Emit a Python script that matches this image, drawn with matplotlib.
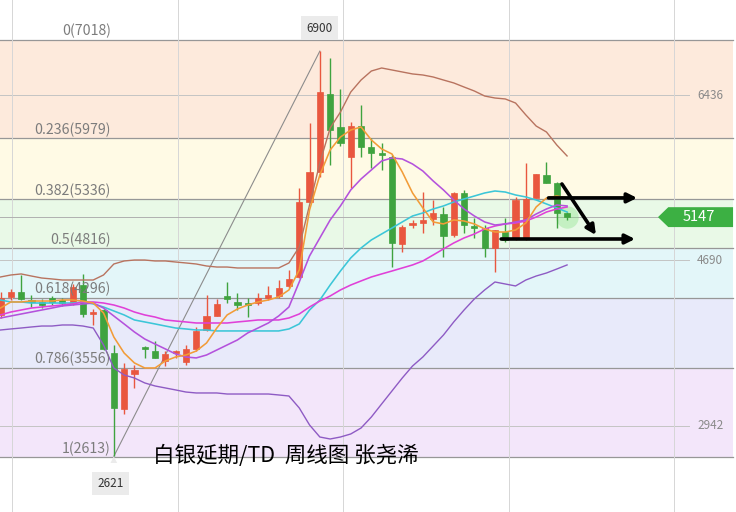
import matplotlib
matplotlib.use('Agg')
import matplotlib.pyplot as plt
import matplotlib.transforms as mtransforms
from matplotlib.patches import Polygon
import numpy as np

plt.rcParams['font.family'] = ['Noto Sans CJK SC', 'DejaVu Sans']

# weekly candles (白银延期/TD), index = week
opens = [4114, 4304, 4356, 4262, 4251, 4293, 4251, 4240, 4430, 4124,
         4166, 3712, 3121, 3491, 3760, 3734, 3628, 3710, 3617, 3755,
         3955, 4103, 4314, 4251, 4240, 4240, 4298, 4314, 4420, 4515,
         5307, 5624, 6447, 6099, 5782, 6109, 5888, 5824, 5782, 4863,
         5064, 5085, 5127, 5180, 4958, 5402, 5037, 5032, 4821, 4990,
         4916, 4916, 5349, 5592, 5507, 5190]
highs = [4356, 4388, 4536, 4325, 4283, 4314, 4293, 4440, 4547, 4177,
         4177, 3797, 3607, 3586, 3786, 3839, 3734, 3744, 3797, 3987,
         4325, 4283, 4462, 4346, 4293, 4346, 4420, 4483, 4589, 5455,
         6141, 6900, 6828, 6500, 6152, 6331, 5983, 5930, 5803, 5064,
         5117, 5412, 5328, 5254, 5412, 5434, 5138, 5064, 5011, 5138,
         5360, 5719, 5603, 5729, 5518, 5201]
lows = [4082, 4272, 4272, 4198, 4188, 4219, 4209, 4219, 4092, 4008,
        3744, 2621, 3068, 3343, 3660, 3655, 3575, 3660, 3586, 3734,
        3945, 4103, 4240, 4166, 4092, 4219, 4272, 4293, 4399, 4504,
        5296, 5571, 5698, 5898, 5455, 5782, 5666, 5645, 4620, 4779,
        5032, 4980, 5064, 4726, 4937, 4980, 4927, 4726, 4568, 4884,
        4906, 4906, 5349, 5507, 5032, 5117]
closes = [4293, 4356, 4283, 4251, 4219, 4251, 4245, 4409, 4124, 4145,
          3755, 3132, 3543, 3533, 3750, 3660, 3702, 3716, 3755, 3945,
          4103, 4230, 4283, 4219, 4219, 4293, 4309, 4399, 4494, 5307,
          5624, 6468, 6067, 5930, 6109, 5888, 5824, 5803, 4874, 5043,
          5085, 5117, 5191, 4948, 5402, 5064, 5027, 4821, 5011, 4906,
          5328, 5339, 5603, 5507, 5191, 5147]

# indicator lines, one value per week
ma_orange = [4187, 4251, 4251, 4261, 4261, 4261, 4272, 4272, 4261, 4240,
             4135, 3881, 3712, 3607, 3554, 3554, 3628, 3670, 3691, 3733,
             3818, 3976, 4114, 4177, 4219, 4251, 4272, 4304, 4378, 4589,
             5222, 5592, 5856, 5993, 6067, 6099, 5962, 5867, 5814, 5624,
             5402, 5244, 5096, 5075, 5117, 5106, 5075, 5022, 4990, 4990,
             5011, 5085, 5254, 5349, 5370, 5349]
ma_violet = [4082, 4103, 4124, 4145, 4166, 4187, 4209, 4219, 4230, 4240,
             4187, 4103, 4019, 3934, 3860, 3807, 3755, 3702, 3670, 3660,
             3691, 3744, 3797, 3850, 3924, 3976, 4029, 4103, 4198, 4462,
             4737, 4927, 5117, 5265, 5434, 5550, 5645, 5740, 5772, 5761,
             5708, 5634, 5529, 5434, 5328, 5233, 5159, 5096, 5064, 5075,
             5096, 5117, 5180, 5233, 5275, 5265]
ma_cyan = [4272, 4251, 4251, 4240, 4240, 4240, 4240, 4240, 4251, 4230,
           4198, 4156, 4114, 4061, 4040, 4019, 3997, 3976, 3966, 3955,
           3955, 3945, 3945, 3945, 3945, 3945, 3945, 3945, 3966, 4019,
           4166, 4272, 4430, 4578, 4716, 4821, 4906, 4969, 5032, 5096,
           5159, 5191, 5233, 5265, 5307, 5339, 5370, 5402, 5423, 5412,
           5381, 5360, 5328, 5286, 5244, 5201]
ma_magenta = [4114, 4145, 4166, 4187, 4198, 4209, 4219, 4230, 4251, 4251,
              4240, 4219, 4187, 4145, 4114, 4092, 4061, 4050, 4040, 4029,
              4029, 4029, 4029, 4040, 4050, 4061, 4061, 4061, 4082, 4124,
              4198, 4261, 4314, 4378, 4430, 4473, 4515, 4547, 4578, 4610,
              4642, 4684, 4747, 4811, 4874, 4927, 4969, 5022, 5053, 5075,
              5085, 5106, 5148, 5201, 5233, 5254]
boll_upper = [4515, 4536, 4547, 4525, 4504, 4494, 4483, 4483, 4483, 4483,
              4536, 4652, 4684, 4694, 4694, 4684, 4684, 4673, 4663, 4652,
              4631, 4620, 4620, 4610, 4610, 4610, 4610, 4610, 4663, 4832,
              5275, 5719, 6088, 6257, 6468, 6595, 6690, 6722, 6701, 6680,
              6659, 6648, 6627, 6595, 6564, 6521, 6479, 6426, 6405, 6395,
              6352, 6226, 6109, 6046, 5909, 5793]
boll_lower = [3955, 3966, 3976, 3987, 3997, 3997, 4008, 4008, 3997, 3976,
              3797, 3554, 3480, 3448, 3396, 3364, 3343, 3322, 3300, 3290,
              3290, 3290, 3279, 3279, 3279, 3279, 3279, 3269, 3258, 3132,
              2952, 2825, 2804, 2825, 2857, 2920, 3036, 3174, 3311, 3448,
              3575, 3670, 3786, 3902, 4040, 4166, 4283, 4378, 4462, 4441,
              4420, 4483, 4525, 4557, 4599, 4642]

# fibonacci retracement from 7018 down to 2613
fib_ratios = ['0', '0.236', '0.382', '0.5', '0.618', '0.786', '1']
fib_prices = [7018, 5979, 5336, 4816, 4296, 3556, 2613]
fib_colors = ['#fdeadc', '#fffae5', '#e9f9e7', '#e3f6f9', '#e8eafa', '#f3e6fa']

axis_ticks = [6436, 4690, 2942]
week_grid = [1.1, 17.2, 33.2, 49.4, 65.4]
last_price = 5147

# hand drawn arrows (start, end)
arrows = [((53.2, 5350), (61.8, 5350)),
          ((54.5, 5497), (57.8, 4958)),
          ((48.6, 4916), (61.6, 4916))]

fig = plt.figure(figsize=(7.36, 5.12), dpi=100)
ax = fig.add_axes([0, 0, 1, 1])
ax.set_xlim(-0.05, 71.4)
ax.set_ylim(2033, 7440)
ax.axis('off')

x_end = 71.1
for k in range(len(fib_colors)):
    ax.fill_between([-0.05, x_end], fib_prices[k + 1], fib_prices[k],
                    color=fib_colors[k], lw=0, zorder=0)
for r, p in zip(fib_ratios, fib_prices):
    ax.plot([-0.05, x_end], [p, p], color='#979797', lw=0.9, zorder=1)
    ax.annotate(f'{r}({p})', (10.7, p), xytext=(0, 1), textcoords='offset points',
                ha='right', va='bottom', fontsize=10.2, color='#7c7c7c', zorder=6)

for t in axis_ticks:
    ax.plot([-0.05, 66.8], [t, t], color='#c4c4c4', lw=0.7, zorder=1)
    ax.text(68.9, t, str(t), ha='center', va='center', fontsize=8.5, color='#8a8a8a')
for w in week_grid:
    ax.axvline(w, color='#d6d6d6', lw=0.7, zorder=1)
ax.plot([-0.05, 63.8], [last_price, last_price], color='#b0b0b0', lw=0.7, zorder=1)

weeks = np.arange(len(closes))
# trend line low -> high
lo_i = int(np.argmin(lows))
hi_i = int(np.argmax(highs))
ax.plot([lo_i, hi_i], [lows[lo_i], highs[hi_i]], color='#8c8c8c', lw=0.8, zorder=2)

# candles
up_c, dn_c = '#e9573f', '#3fa33f'
for i in weeks:
    o, h, l, c = opens[i], highs[i], lows[i], closes[i]
    col = up_c if c >= o else dn_c
    ax.vlines(i, l, h, color=col, lw=1.0, zorder=3)
    bottom = min(o, c)
    height = max(abs(c - o), 22)
    ax.bar(i, height, bottom=bottom, width=0.6, color=col, edgecolor=col, lw=0.5, zorder=3)

ax.plot(weeks, boll_upper, color='#b8735f', lw=1.0, zorder=4)
ax.plot(weeks, boll_lower, color='#8e5bc4', lw=1.0, zorder=4)
ax.plot(weeks, ma_cyan, color='#3cc6d8', lw=1.15, zorder=4)
ax.plot(weeks, ma_magenta, color='#e040d8', lw=1.15, zorder=4)
ax.plot(weeks, ma_violet, color='#b452dc', lw=1.15, zorder=4)
ax.plot(weeks, ma_orange, color='#f29c38', lw=1.15, zorder=4)

# glow on last candle
ax.scatter([weeks[-1]], [closes[-1]], s=260, color='#7fe07f', alpha=0.35, lw=0, zorder=2)

for (x0, y0), (x1, y1) in arrows:
    ax.annotate('', xy=(x1, y1), xytext=(x0, y0),
                arrowprops=dict(arrowstyle='-|>', color='black', lw=2.6,
                                mutation_scale=14, shrinkA=0, shrinkB=0), zorder=5)

# high / low labels
box = dict(boxstyle='square,pad=0.45', fc='#ebebeb', ec='none')
ax.annotate(str(highs[hi_i]), (hi_i, highs[hi_i]), xytext=(0, 23), textcoords='offset pixels',
            ha='center', va='center', fontsize=8.5, color='#333333', bbox=box, zorder=6)
ax.annotate(str(lows[lo_i]), (lo_i, lows[lo_i]), xytext=(-3, -27),
            textcoords='offset pixels', ha='center', va='center', fontsize=8.5,
            color='#333333', bbox=box, zorder=6)
ax.annotate('', (lo_i, lows[lo_i]), xytext=(0, -9), textcoords='offset pixels',
            arrowprops=dict(arrowstyle='-|>', color='#ebebeb', lw=0, mutation_scale=12,
                            shrinkA=0, shrinkB=0), zorder=6)

# current price tag
trans = mtransforms.blended_transform_factory(ax.transAxes, ax.transData)
hh = 105
tag = Polygon([(0.894, last_price), (0.908, last_price + hh), (0.996, last_price + hh),
               (0.996, last_price - hh), (0.908, last_price - hh)],
              closed=True, transform=trans, fc='#3cb043', ec='none', zorder=6)
ax.add_patch(tag)
ax.text(0.949, last_price, str(last_price), transform=trans, ha='center', va='center',
        fontsize=10.5, color='white', zorder=7)

ax.text(14.85, 2625, '白银延期/TD  周线图 张尧浠', ha='left', va='center',
        fontsize=15.5, color='black', zorder=7)

fig.savefig('out.png', dpi=100)
